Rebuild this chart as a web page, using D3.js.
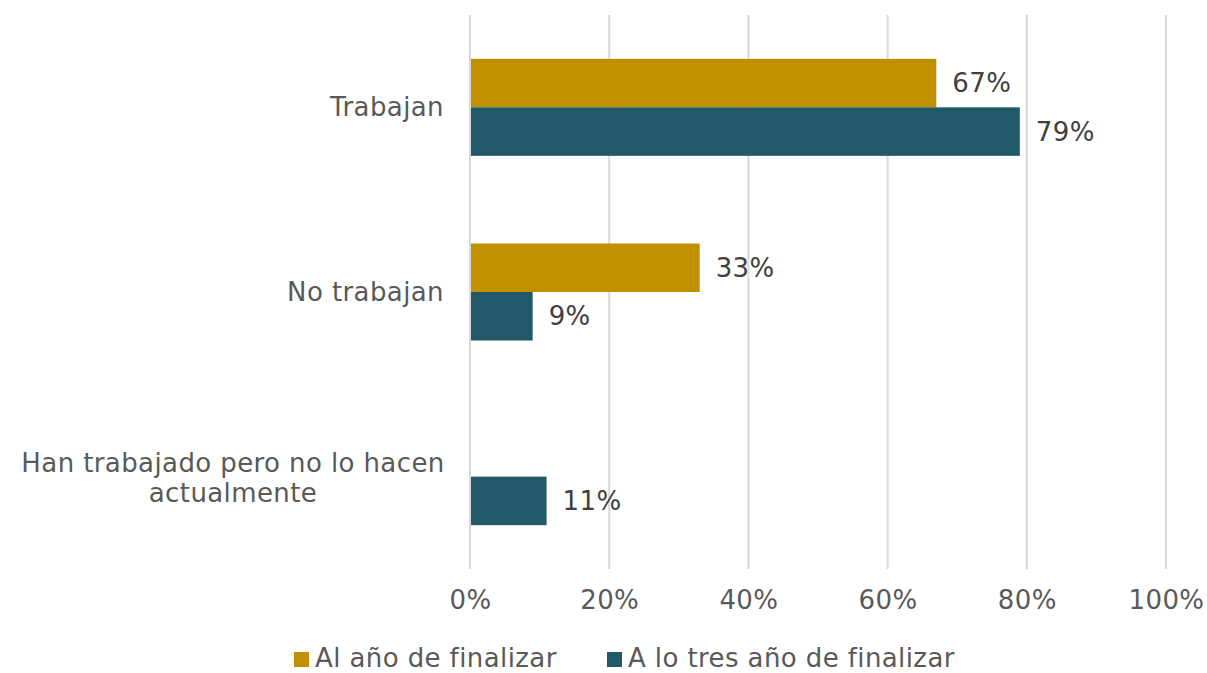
<!DOCTYPE html>
<html>
<head>
<meta charset="utf-8">
<script src="https://cdn.jsdelivr.net/npm/d3@7"></script>
<style>
  body { margin: 0; background: #fff; }
  text { font-family: Verdana, "DejaVu Sans", sans-serif; letter-spacing: 0.4px; }
</style>
</head>
<body>
<svg id="chart" width="1207" height="673"></svg>
<script>
var categories = ["Trabajan", "No trabajan", "Han trabajado pero no lo hacen actualmente"];
var seriesNames = ["Al año de finalizar", "A lo tres año de finalizar"];
var alAnio = [0.67, 0.33, null];
var aTresAnios = [0.79, 0.09, 0.11];
var tickValues = [0, 0.2, 0.4, 0.6, 0.8, 1.0];
var colors = ["#BF9000", "#215968"];

var svg = d3.select("#chart");
var margin = {top: 15, left: 470, right: 41, bottom: 104};
var width = 1207 - margin.left - margin.right,
    height = 673 - margin.top - margin.bottom;
var fs = 26;

var g = svg.append("g").attr("transform", "translate(" + margin.left + "," + margin.top + ")");

var x = d3.scaleLinear().domain([0, 1]).range([0, width]);
var y = d3.scaleBand().domain(categories).range([0, height]).paddingInner(0).paddingOuter(0);
var barH = 48.5;

// grid
g.selectAll("line.grid")
  .data(tickValues)
  .enter().append("line")
  .attr("class", "grid")
  .attr("x1", function(d) { return x(d); })
  .attr("x2", function(d) { return x(d); })
  .attr("y1", 0).attr("y2", height)
  .attr("stroke", "#d9d9d9")
  .attr("stroke-width", 2);

// x axis labels
var xAxis = d3.axisBottom(x).tickValues(tickValues).tickFormat(d3.format(".0%")).tickSize(0).tickPadding(22);
var ax = g.append("g").attr("transform", "translate(0," + height + ")").call(xAxis);
ax.select(".domain").remove();
ax.selectAll("text").attr("font-size", fs).attr("fill", "#595959")
  .style("font-family", "Verdana, 'DejaVu Sans', sans-serif");

// category labels
categories.forEach(function(c) {
  var cy = y(c) + y.bandwidth() / 2;
  if (c.length > 20) {
    var t = g.append("text").attr("text-anchor", "middle").attr("font-size", fs).attr("fill", "#595959");
    t.append("tspan").attr("x", -237).attr("y", cy - 5).text("Han trabajado pero no lo hacen");
    t.append("tspan").attr("x", -237).attr("y", cy + 25).text("actualmente");
  } else {
    g.append("text").attr("x", -26).attr("y", cy).attr("dy", "0.35em")
      .attr("text-anchor", "end").attr("font-size", fs).attr("fill", "#595959").text(c);
  }
});

var series = [alAnio, aTresAnios];
series.forEach(function(vals, si) {
  var data = categories.map(function(c, i) { return {cat: c, v: vals[i]}; }).filter(function(d) { return d.v != null; });
  var offset = si === 0 ? -barH : 0;
  g.selectAll("rect.s" + si)
    .data(data)
    .enter().append("rect")
    .attr("class", "s" + si)
    .attr("x", x(0) + 1)
    .attr("y", function(d) { return y(d.cat) + y.bandwidth() / 2 + offset; })
    .attr("width", function(d) { return x(d.v) - x(0) - 1; })
    .attr("height", barH)
    .attr("fill", colors[si]);
  g.selectAll("text.l" + si)
    .data(data)
    .enter().append("text")
    .attr("class", "l" + si)
    .attr("x", function(d) { return x(d.v) + 16; })
    .attr("y", function(d) { return y(d.cat) + y.bandwidth() / 2 + offset + barH / 2; })
    .attr("dy", "0.35em")
    .attr("font-size", fs)
    .attr("fill", "#404040")
    .text(function(d) { return d3.format(".0%")(d.v); });
});

// legend
var legend = svg.append("g").attr("transform", "translate(294,659)");
var lx = [0, 313];
seriesNames.forEach(function(n, i) {
  legend.append("rect").attr("x", lx[i]).attr("y", -7).attr("width", 15).attr("height", 15).attr("fill", colors[i]);
  legend.append("text").attr("x", lx[i] + 21).attr("y", 0).attr("dy", "0.3em")
    .attr("font-size", fs).attr("fill", "#595959").text(n);
});
</script>
</body>
</html>
